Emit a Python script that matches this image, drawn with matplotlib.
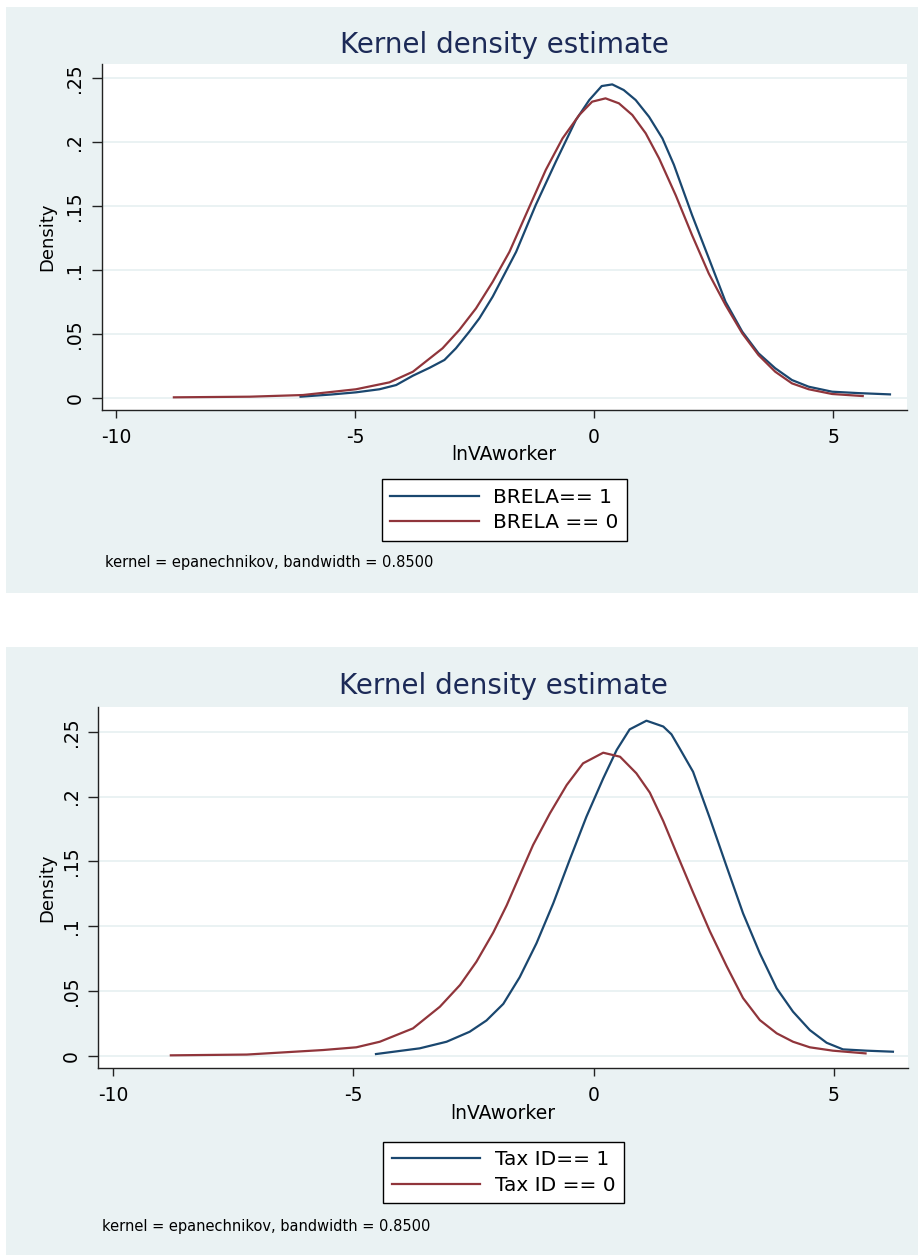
# -*- coding: utf-8 -*-
"""
Deux densités kernel (style Stata s2color) empilées :
- haut : BRELA == 1 vs BRELA == 0
- bas  : Tax ID == 1 vs Tax ID == 0
Sortie : out.png (918x1255)
"""

import matplotlib.pyplot as plt
from matplotlib.patches import Rectangle

plt.rcParams["axes.unicode_minus"] = False

# ---------- Données ----------
# Panneau du haut : BRELA
brela1_x = [-6.14, -5.5, -4.98, -4.49, -4.14, -3.79, -3.44, -3.13, -2.89, -2.61,
            -2.40, -2.12, -1.63, -1.22, -0.80, -0.38, -0.10, 0.16, 0.38, 0.62,
            0.87, 1.15, 1.43, 1.67, 2.05, 2.40, 2.75, 3.10, 3.44, 3.79, 4.14,
            4.49, 4.98, 5.53, 6.19]
brela1_y = [0.0008, 0.0025, 0.0042, 0.0066, 0.0099, 0.0172, 0.0234, 0.0295, 0.0386, 0.0516,
            0.0620, 0.0790, 0.1140, 0.1506, 0.1844, 0.2170, 0.2326, 0.2435, 0.2448, 0.2404,
            0.2326, 0.2195, 0.2026, 0.1820, 0.1427, 0.1090, 0.0750, 0.0516, 0.0347, 0.0230, 0.0138,
            0.0086, 0.0047, 0.0036, 0.0026]

brela0_x = [-8.79, -7.2, -6.09, -4.98, -4.28, -3.79, -3.17, -2.82, -2.47, -2.12,
            -1.77, -1.43, -1.01, -0.66, -0.31, -0.04, 0.24, 0.52, 0.80, 1.08,
            1.36, 1.71, 2.05, 2.40, 2.75, 3.10, 3.44, 3.79, 4.14, 4.49, 4.98, 5.62]
brela0_y = [0.0003, 0.0008, 0.0021, 0.0066, 0.0120, 0.0203, 0.0386, 0.0529, 0.0698, 0.0906,
            0.1140, 0.1427, 0.1780, 0.2026, 0.2209, 0.2313, 0.2339, 0.2300, 0.2209, 0.2066,
            0.1870, 0.1580, 0.1270, 0.0970, 0.0724, 0.0503, 0.0333, 0.0203, 0.0112, 0.0066, 0.0029, 0.0013]

# Panneau du bas : Tax ID
tax1_x = [-4.53, -3.62, -3.06, -2.58, -2.23, -1.88, -1.54, -1.19, -0.84, -0.50,
          -0.15, 0.20, 0.48, 0.75, 1.10, 1.45, 1.62, 1.79, 2.07, 2.42, 2.77,
          3.11, 3.46, 3.81, 4.15, 4.50, 4.85, 5.19, 5.68, 6.23]
tax1_y = [0.0013, 0.0057, 0.0108, 0.0185, 0.0272, 0.0400, 0.0605, 0.0867, 0.1176, 0.1510,
          0.1844, 0.2140, 0.2359, 0.2518, 0.2585, 0.2540, 0.2480, 0.2372, 0.2191, 0.1832, 0.1458,
          0.1099, 0.0790, 0.0520, 0.0340, 0.0198, 0.0100, 0.0049, 0.0039, 0.0031]

tax0_x = [-8.80, -7.22, -5.63, -4.94, -4.45, -3.76, -3.20, -2.78, -2.44, -2.09,
          -1.81, -1.54, -1.26, -0.91, -0.56, -0.22, 0.20, 0.55, 0.89, 1.17,
          1.45, 1.73, 2.07, 2.42, 2.77, 3.11, 3.46, 3.81, 4.15, 4.50, 4.98, 5.66]
tax0_y = [0.0003, 0.0009, 0.0044, 0.0065, 0.0108, 0.0211, 0.0378, 0.0546, 0.0725, 0.0950,
          0.1160, 0.1390, 0.1626, 0.1870, 0.2089, 0.2256, 0.2338, 0.2307, 0.2179, 0.2030,
          0.1810, 0.1560, 0.1260, 0.0960, 0.0690, 0.0445, 0.0275, 0.0173, 0.0108, 0.0065, 0.0039, 0.0018]

xticks = [-10, -5, 0, 5]
xtick_labels = ["-10", "-5", "0", "5"]
yticks = [0, 0.05, 0.1, 0.15, 0.2, 0.25]
ytick_labels = ["0", ".05", ".1", ".15", ".2", ".25"]

title = "Kernel density estimate"
xlabel = "lnVAworker"
ylabel = "Density"
note = "kernel = epanechnikov, bandwidth = 0.8500"

# ---------- Style ----------
W, H = 918, 1255
BG = "#eaf2f3"
BLUE = "#1a476f"
RED = "#90353b"
NAVY = "#1c2a57"


def fbox(left, top, right, bottom):
    """pixels -> coordonnées figure [l, b, w, h]"""
    return [left / W, 1 - bottom / H, (right - left) / W, (bottom - top) / H]


fig = plt.figure(figsize=(W / 100, H / 100), dpi=100, facecolor="white")

panels = [
    # fond, axes, xlim, ylim, titre y, légende centre, note, séries, labels
    dict(bg=(6, 7, 918, 593), ax=(101.7, 64.3, 906.7, 410), xlim=(-10.30, 6.54),
         ylim=(-0.0096, 0.2605), title_y=45, leg=(504.5, 510), note=(105, 562),
         series=[(brela1_x, brela1_y, BLUE), (brela0_x, brela0_y, RED)],
         labels=["BRELA== 1", "BRELA == 0"]),
    dict(bg=(6, 647, 918, 1255), ax=(98.3, 706.7, 908.3, 1068.3), xlim=(-10.31, 6.55),
         ylim=(-0.0097, 0.2693), title_y=686, leg=(503.5, 1172.5), note=(102, 1227),
         series=[(tax1_x, tax1_y, BLUE), (tax0_x, tax0_y, RED)],
         labels=["Tax ID== 1", "Tax ID == 0"]),
]

for p in panels:
    l, t, r, b = p["bg"]
    fig.add_artist(Rectangle((l / W, 1 - b / H), (r - l) / W, (b - t) / H,
                             transform=fig.transFigure, facecolor=BG,
                             edgecolor="none", zorder=0))

    al, at, ar, ab = p["ax"]
    ax = fig.add_axes(fbox(al, at, ar, ab))
    ax.set_facecolor("white")

    handles = []
    for xs, ys, col in p["series"]:
        line, = ax.plot(xs, ys, color=col, lw=1.6, solid_joinstyle="round")
        handles.append(line)

    ax.set_xlim(*p["xlim"])
    ax.set_ylim(*p["ylim"])
    ax.set_xticks(xticks)
    ax.set_xticklabels(xtick_labels)
    ax.set_yticks(yticks)
    ax.set_yticklabels(ytick_labels, rotation=90, va="center")

    ax.yaxis.grid(True, color=BG, lw=1.4)
    ax.set_axisbelow(True)
    for s in ["top", "right"]:
        ax.spines[s].set_visible(False)
    for s in ["left", "bottom"]:
        ax.spines[s].set_color("#222222")
        ax.spines[s].set_linewidth(1.0)
    ax.tick_params(axis="y", length=7, width=1.0, color="#222222", pad=5.5, labelsize=13.5)
    ax.tick_params(axis="x", length=6, width=1.0, color="#222222", pad=7, labelsize=13.5)

    # titres d'axes
    ax.set_xlabel(xlabel, fontsize=13.5)
    ax.xaxis.label.set_va("center")
    ax.xaxis.set_label_coords(0.5, -45 / (ab - at))
    ax.set_ylabel(ylabel, fontsize=13)
    ax.yaxis.label.set_va("center")
    ax.yaxis.set_label_coords((47 - al) / (ar - al), 0.5)

    fig.text((al + ar) / 2 / W, 1 - p["title_y"] / H, title, fontsize=20,
             color=NAVY, ha="center", va="center")

    lx, ly = p["leg"]
    ax.legend(handles, p["labels"], loc="center", bbox_to_anchor=(lx / W, 1 - ly / H),
              bbox_transform=fig.transFigure, fontsize=14.5, frameon=True,
              fancybox=False, framealpha=1, edgecolor="black", handlelength=4.4,
              handletextpad=0.7, borderpad=0.42, labelspacing=0.33, borderaxespad=0)
    ax.get_legend().get_frame().set_linewidth(1.0)

    nx, ny = p["note"]
    fig.text(nx / W, 1 - ny / H, note, fontsize=10.5, ha="left", va="center")

fig.savefig("out.png", dpi=100, facecolor="white")
